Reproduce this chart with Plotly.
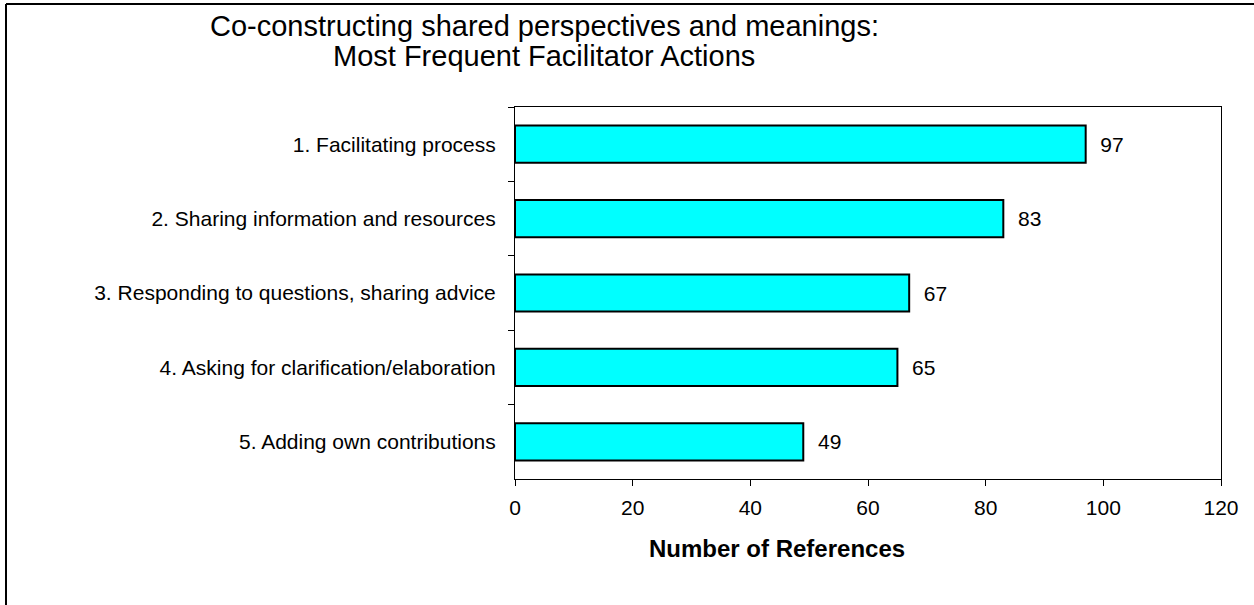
import plotly.graph_objects as go

categories = [
    "1. Facilitating process",
    "2. Sharing information and resources",
    "3. Responding to questions, sharing advice",
    "4. Asking for clarification/elaboration",
    "5. Adding own contributions",
]
values = [97, 83, 67, 65, 49]
x_ticks = [0, 20, 40, 60, 80, 100, 120]
title_lines = ["Co-constructing shared perspectives and meanings:",
               "Most Frequent Facilitator Actions"]

W, H = 1254, 605
L, R, T, B = 515, 33, 107, 126
pw, ph = W - L - R, H - T - B

def px(x):
    return (x - L) / pw

def py(y):
    return (H - B - y) / ph

FONT = "Liberation Sans, Arial, sans-serif"

fig = go.Figure()
fig.add_trace(go.Bar(
    x=values, y=categories, orientation="h",
    marker=dict(color="#00FFFF", line=dict(color="black", width=2)),
    width=0.5,
    text=[f"  {v}" for v in values],
    textposition="outside",
    textfont=dict(family=FONT, size=21, color="black"),
    cliponaxis=False,
    hoverinfo="x+y",
))

annotations = [
    dict(text=title_lines[0], x=px(544), y=py(25.5), xref="paper", yref="paper",
         xanchor="center", yanchor="middle", showarrow=False,
         font=dict(family=FONT, size=29, color="black")),
    dict(text=title_lines[1], x=px(544), y=py(55.5), xref="paper", yref="paper",
         xanchor="center", yanchor="middle", showarrow=False,
         font=dict(family=FONT, size=29, color="black")),
    dict(text="<b>Number of References</b>",
         x=px(777), y=py(548), xref="paper", yref="paper",
         xanchor="center", yanchor="middle", showarrow=False,
         font=dict(family=FONT, size=24, color="black")),
]

fig.update_layout(
    width=W, height=H,
    margin=dict(l=L, r=R, t=T, b=B, pad=0),
    paper_bgcolor="white", plot_bgcolor="white",
    showlegend=False,
    font=dict(family=FONT, size=21, color="black"),
    xaxis=dict(
        range=[0, 120], tickvals=x_ticks, ticks="outside", ticklen=6,
        tickcolor="black", showline=True, linecolor="black", linewidth=1,
        mirror=True, showgrid=False, zeroline=False,
        tickfont=dict(family=FONT, size=21, color="black"),
        ticklabelstandoff=4,
    ),
    yaxis=dict(
        type="category", categoryorder="array", categoryarray=categories,
        autorange="reversed", tickson="boundaries", ticks="outside", ticklen=6,
        tickcolor="black", showline=True, linecolor="black", linewidth=1,
        mirror=True, showgrid=False,
        tickfont=dict(family=FONT, size=21, color="black"),
        ticklabelstandoff=14,
    ),
    annotations=annotations,
    shapes=[
        dict(type="line", xref="paper", yref="paper",
             x0=px(6), x1=px(W + 10), y0=py(4), y1=py(4),
             line=dict(color="black", width=2)),
        dict(type="line", xref="paper", yref="paper",
             x0=px(6), x1=px(6), y0=py(4), y1=py(H + 10),
             line=dict(color="black", width=2)),
    ],
)

fig.write_html("out.html", config={"displayModeBar": False},
               post_script="document.body.style.margin='0';document.body.style.overflow='hidden';")
